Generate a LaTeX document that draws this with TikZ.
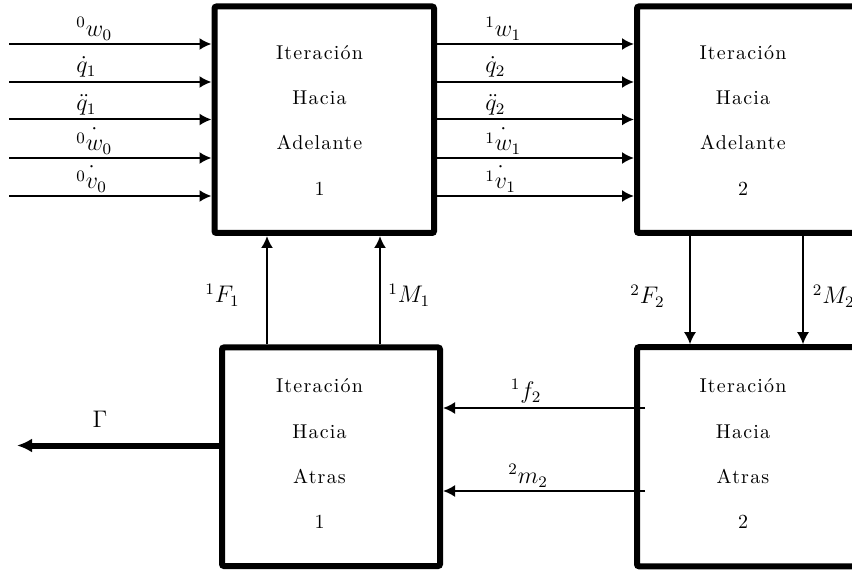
\documentclass[tikz,border=0pt]{standalone}
\usepackage{fontspec}
\newfontfamily\boxfont{lmroman10-regular}[Extension=.otf,LetterSpace=6]
\usetikzlibrary{arrows.meta}
\begin{document}
\begin{tikzpicture}[x=0.5pt,y=-0.5pt,
  blk/.style={draw, line width=3pt, rounded corners=1pt, inner sep=0pt, fill=white},
  btxt/.style={font=\boxfont, anchor=base, inner sep=0pt},
  arr/.style={line width=1pt, -{Latex[length=6pt,width=6pt]}},
  garr/.style={line width=3pt, -{Latex[length=7.5pt,width=7pt]}},
  lbl/.style={anchor=base west, inner sep=0pt, font=\fontsize{12}{14}\selectfont},
  albl/.style={anchor=south west, inner sep=0pt, font=\fontsize{12}{14}\selectfont},
]
\useasboundingbox (0,0) rectangle (852,572);
\clip (0,0) rectangle (852,572);
% blocks
\node[blk, minimum width=109.75pt, minimum height=113.25pt] (b1) at (324.25,119.75) {};
\node[blk, minimum width=110pt, minimum height=113.25pt] (b2) at (747,119.75) {};
\node[blk, minimum width=109pt, minimum height=109.25pt] (b3) at (331,456.75) {};
\node[blk, minimum width=110pt, minimum height=109.5pt] (b4) at (747,456.75) {};
% block texts
\node[btxt] (b1t1) at (319.5,60) {Iteración};
\node[btxt] (b1t2) at (319.5,105) {Hacia};
\node[btxt] (b1t3) at (319.5,150) {Adelante};
\node[btxt] (b1t4) at (319.5,196) {1};
\node[btxt] (b2t1) at (743,60) {Iteración};
\node[btxt] (b2t2) at (743,105) {Hacia};
\node[btxt] (b2t3) at (743,150) {Adelante};
\node[btxt] (b2t4) at (743,196) {2};
\node[btxt] (b3t1) at (319.5,393) {Iteración};
\node[btxt] (b3t2) at (319.5,438.5) {Hacia};
\node[btxt] (b3t3) at (319.5,483) {Atras};
\node[btxt] (b3t4) at (319.5,528) {1};
\node[btxt] (b4t1) at (743,393) {Iteración};
\node[btxt] (b4t2) at (743,438.5) {Hacia};
\node[btxt] (b4t3) at (743,483) {Atras};
\node[btxt] (b4t4) at (743,528) {2};
% input arrows
\coordinate (in1) at (9,44);
\coordinate (in2) at (9,82);
\coordinate (in3) at (9,119.5);
\coordinate (in4) at (9,158);
\coordinate (in5) at (9,196);
\draw[arr] (in1) -- (in1 -| b1.west);
\draw[arr] (in2) -- (in2 -| b1.west);
\draw[arr] (in3) -- (in3 -| b1.west);
\draw[arr] (in4) -- (in4 -| b1.west);
\draw[arr] (in5) -- (in5 -| b1.west);
\node[albl] (li1) at (76,40.5) {${}^{0}w_{0}$};
\node[albl] (li2) at (76,78) {$\dot{q}_{1}$};
\node[albl] (li3) at (76,115.5) {$\ddot{q}_{1}$};
\node[albl] (li4) at (76,154.5) {$\dot{{}^{0}w_{0}}$};
\node[albl] (li5) at (76,192.5) {$\dot{{}^{0}v_{0}}$};
% forward arrows 1 -> 2
\draw[arr] (b1.east |- in1) -- (b2.west |- in1);
\draw[arr] (b1.east |- in2) -- (b2.west |- in2);
\draw[arr] (b1.east |- in3) -- (b2.west |- in3);
\draw[arr] (b1.east |- in4) -- (b2.west |- in4);
\draw[arr] (b1.east |- in5) -- (b2.west |- in5);
\node[albl] (lo1) at (485,40.5) {${}^{1}w_{1}$};
\node[albl] (lo2) at (485,78) {$\dot{q}_{2}$};
\node[albl] (lo3) at (485,115.5) {$\ddot{q}_{2}$};
\node[albl] (lo4) at (485,154.5) {$\dot{{}^{1}w_{1}}$};
\node[albl] (lo5) at (485,192.5) {$\dot{{}^{1}v_{1}}$};
% vertical arrows
\coordinate (xF1) at (267,0);
\coordinate (xM1) at (380,0);
\coordinate (xF2) at (690,0);
\coordinate (xM2) at (803,0);
\draw[arr] (b3.north -| xF1) -- (b1.south -| xF1);
\draw[arr] (b3.north -| xM1) -- (b1.south -| xM1);
\draw[arr] (b2.south -| xF2) -- (b4.north -| xF2);
\draw[arr] (b2.south -| xM2) -- (b4.north -| xM2);
\node[lbl] (lF1) at (205,303) {${}^{1}F_{1}$};
\node[lbl] (lM1) at (388,303) {${}^{1}M_{1}$};
\node[lbl] (lF2) at (630,304) {${}^{2}F_{2}$};
\node[lbl] (lM2) at (812.5,304) {${}^{2}M_{2}$};
% backward arrows
\coordinate (bf1) at (645,408);
\coordinate (bf2) at (645,491);
\draw[arr] (bf1) -- (bf1 -| b3.east);
\draw[arr] (bf2) -- (bf2 -| b3.east);
\node[albl] (lf2) at (510.5,403.5) {${}^{1}f_{2}$};
\node[albl] (lm2) at (508,487.5) {${}^{2}m_{2}$};
% Gamma output
\coordinate (gend) at (17,445.5);
\draw[garr] (b3.west |- gend) -- (gend);
\node[anchor=base, inner sep=0pt, font=\fontsize{12}{14}\selectfont] (lG) at (100,428) {$\Gamma$};
\end{tikzpicture}
\end{document}
